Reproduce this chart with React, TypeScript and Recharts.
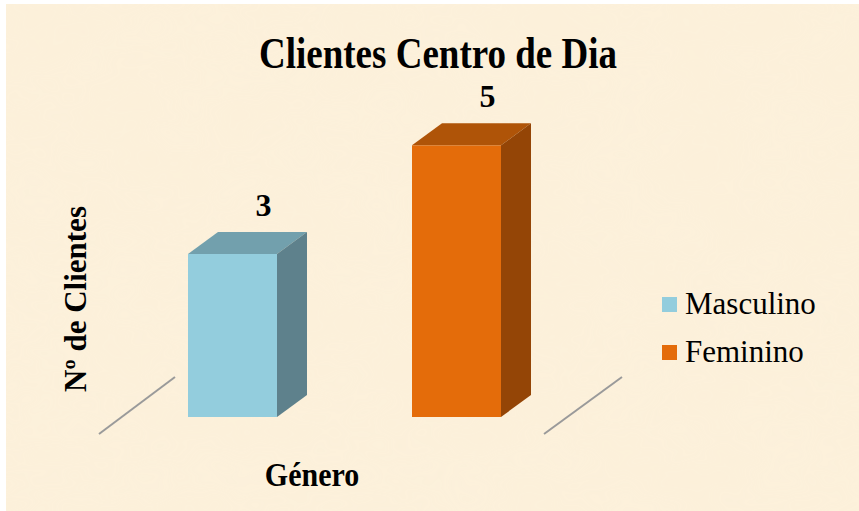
import React from "react";
import { BarChart, Bar, XAxis, YAxis, LabelList } from "recharts";

const W = 859;
const H = 511;

// ---- data ----
const categories = ["Género"];
const seriesNames = ["Masculino", "Feminino"];
const masculinoValues = [3];
const femininoValues = [5];
const yDomain = [0, 6];

const data = categories.map((c, i) => ({
  name: c,
  Masculino: masculinoValues[i],
  Feminino: femininoValues[i],
}));

// ---- styles ----
const FONT = "'Liberation Serif', 'Times New Roman', serif";
const BG = "#FCF0DA";
const DX = 30;
const DY = 22;
const COLORS: Record<string, { front: string; top: string; side: string }> = {
  Masculino: { front: "#93CDDD", top: "#72A0AD", side: "#5E818C" },
  Feminino: { front: "#E46C0A", top: "#AF5408", side: "#944506" },
};
const MARGIN = { top: 91, right: 292, bottom: 94, left: 122 };

const makeShape = (key: string) => (props: any) => {
  const { x, y, width, height } = props;
  const c = COLORS[key];
  if (width == null || height == null) return null;
  const top = `${x},${y} ${x + DX},${y - DY} ${x + width + DX},${y - DY} ${x + width},${y}`;
  const side = `${x + width},${y} ${x + width + DX},${y - DY} ${x + width + DX},${y + height - DY} ${x + width},${y + height}`;
  return (
    <g>
      <rect x={x} y={y} width={width} height={height} fill={c.front} />
      <polygon points={top} fill={c.top} />
      <polygon points={side} fill={c.side} />
    </g>
  );
};

const ValueLabel = (props: any) => {
  const { x, y, width, value } = props;
  return (
    <text
      x={x + width / 2 + DX + 1}
      y={y - DY - 16}
      textAnchor="middle"
      fontFamily={FONT}
      fontWeight="bold"
      fontSize={32}
      fill="#000"
    >
      {value}
    </text>
  );
};

const LegendBox = () => (
  <div style={{ position: "absolute", left: 662, top: 280, fontFamily: FONT, fontSize: 31, color: "#000" }}>
    {seriesNames.map((n) => (
      <div key={n} style={{ display: "flex", alignItems: "center", height: 48 }}>
        <span
          style={{
            display: "inline-block",
            width: 15,
            height: 15,
            background: COLORS[n].front,
            marginRight: 8,
          }}
        />
        <span style={{ lineHeight: "30px" }}>{n}</span>
      </div>
    ))}
  </div>
);

export default function App() {
  const plotLeft = MARGIN.left;
  const plotRight = W - MARGIN.right;
  const plotBottom = H - MARGIN.bottom;
  return (
    <div style={{ position: "absolute", left: 0, top: 0, width: W, height: H, background: "#FFFFFF" }}>
      <svg width={W} height={H} style={{ position: "absolute", left: 0, top: 0 }}>
        <defs>
          <filter id="paper" x="0" y="0" width="100%" height="100%">
            <feTurbulence type="fractalNoise" baseFrequency="0.012 0.02" numOctaves="3" seed="4" />
            <feColorMatrix
              type="matrix"
              values="0 0 0 0 0.99  0 0 0 0 0.93  0 0 0 0 0.78  0 0 0 0.35 -0.05"
            />
          </filter>
        </defs>
        <rect x={6} y={4} width={W - 6} height={H - 4} fill={BG} />
        <rect x={6} y={4} width={W - 6} height={H - 4} filter="url(#paper)" opacity={0.4} />
        <line x1={plotLeft - 23} y1={plotBottom + 17} x2={plotLeft + 53} y2={plotBottom - 40} stroke="#9A9A9A" strokeWidth={2} />
        <line x1={plotRight - 23} y1={plotBottom + 17} x2={plotRight + 55} y2={plotBottom - 40} stroke="#9A9A9A" strokeWidth={2} />
        <g transform="translate(438,68) scale(1,1.22)">
          <text x={0} y={0} textAnchor="middle" fontFamily={FONT} fontWeight="bold" fontSize={37} fill="#000">
            Clientes Centro de Dia
          </text>
        </g>
        <text
          x={0}
          y={0}
          transform="translate(86,299) rotate(-90)"
          textAnchor="middle"
          fontFamily={FONT}
          fontWeight="bold"
          fontSize={31}
          fill="#000"
        >
          Nº de Clientes
        </text>
        <g transform="translate(312,486) scale(1,1.12)">
          <text x={0} y={0} textAnchor="middle" fontFamily={FONT} fontWeight="bold" fontSize={30} fill="#000">
            Género
          </text>
        </g>
      </svg>
      <div style={{ position: "absolute", left: 0, top: 0 }}>
        <BarChart width={W} height={H} data={data} margin={MARGIN} barGap={135}>
          <XAxis dataKey="name" hide />
          <YAxis hide domain={yDomain} />
          {seriesNames.map((n) => (
            <Bar key={n} dataKey={n} barSize={89} shape={makeShape(n)} isAnimationActive={false}>
              <LabelList dataKey={n} content={<ValueLabel />} />
            </Bar>
          ))}
        </BarChart>
      </div>
      <LegendBox />
    </div>
  );
}
